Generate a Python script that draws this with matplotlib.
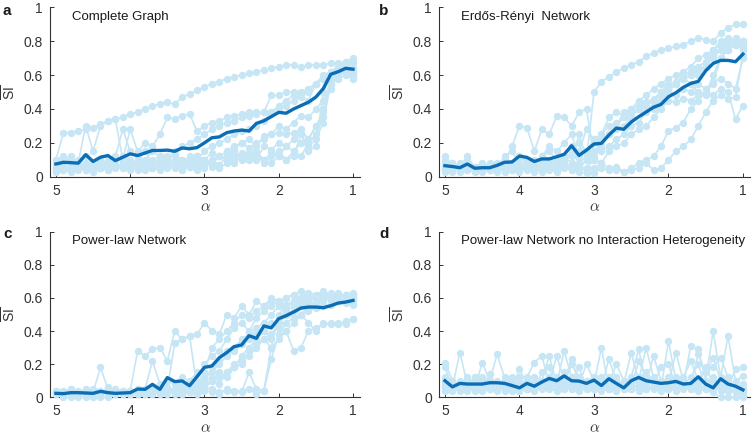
import numpy as np
import matplotlib
matplotlib.use("Agg")
import matplotlib.pyplot as plt

plt.rcParams['font.family'] = ['Liberation Sans', 'DejaVu Sans']
plt.rcParams['mathtext.fontset'] = 'custom'
plt.rcParams['mathtext.rm'] = 'Liberation Sans'
plt.rcParams['mathtext.it'] = 'Liberation Sans:italic'

alpha = np.round(np.arange(5.0, 0.95, -0.1), 2)

titles = ["Complete Graph", "Erdős-Rényi  Network", "Power-law Network",
          "Power-law Network no Interaction Heterogeneity"]
letters = ["a", "b", "c", "d"]

mean_a = [0.075,0.085,0.083,0.08,0.13,0.09,0.115,0.125,0.095,0.115,0.135,0.125,0.14,0.155,0.155,0.157,0.15,0.17,0.165,0.172,
          0.2,0.23,0.235,0.26,0.27,0.275,0.27,0.315,0.33,0.355,0.38,0.375,0.4,0.42,0.44,0.47,0.52,0.605,0.62,0.64,0.635]
mean_b = [0.065,0.06,0.053,0.075,0.05,0.053,0.053,0.067,0.085,0.087,0.122,0.114,0.09,0.105,0.105,0.118,0.132,0.183,0.126,0.157,
          0.193,0.197,0.246,0.287,0.28,0.323,0.354,0.382,0.41,0.427,0.472,0.496,0.528,0.551,0.563,0.626,0.669,0.687,0.687,0.679,0.724]
mean_c = [0.024,0.022,0.028,0.028,0.026,0.024,0.036,0.028,0.024,0.026,0.028,0.05,0.048,0.078,0.048,0.119,0.095,0.099,0.07,0.125,
          0.181,0.189,0.239,0.27,0.306,0.316,0.372,0.356,0.431,0.419,0.475,0.493,0.515,0.539,0.545,0.545,0.541,0.553,0.569,0.575,0.585]
mean_d = [0.1,0.063,0.084,0.08,0.08,0.08,0.088,0.088,0.084,0.071,0.057,0.084,0.067,0.092,0.114,0.1,0.129,0.1,0.098,0.084,
          0.104,0.071,0.112,0.084,0.057,0.1,0.12,0.1,0.092,0.084,0.088,0.096,0.08,0.084,0.124,0.08,0.057,0.112,0.08,0.067,0.045]

runs_a = [
 [0.10,0.26,0.26,0.27,0.28,0.29,0.31,0.33,0.34,0.35,0.37,0.38,0.40,0.42,0.43,0.44,0.43,0.47,0.49,0.51,0.53,0.55,0.56,0.58,0.59,0.60,0.61,0.62,0.63,0.64,0.65,0.66,0.66,0.65,0.66,0.66,0.66,0.67,0.67,0.68,0.68],
 [0.08,0.10,0.12,0.08,0.30,0.15,0.30,0.33,0.34,0.10,0.28,0.15,0.20,0.18,0.25,0.35,0.34,0.36,0.37,0.27,0.30,0.32,0.33,0.35,0.36,0.37,0.38,0.38,0.38,0.48,0.48,0.50,0.50,0.47,0.45,0.55,0.60,0.62,0.64,0.66,0.67],
 [0.05,0.06,0.05,0.07,0.06,0.08,0.05,0.07,0.06,0.05,0.08,0.07,0.06,0.10,0.12,0.10,0.15,0.18,0.20,0.22,0.25,0.28,0.30,0.32,0.33,0.35,0.36,0.37,0.38,0.38,0.40,0.42,0.45,0.48,0.50,0.55,0.58,0.62,0.65,0.66,0.64],
 [0.04,0.05,0.04,0.06,0.05,0.04,0.06,0.05,0.07,0.06,0.05,0.08,0.06,0.07,0.06,0.08,0.10,0.08,0.12,0.10,0.15,0.18,0.20,0.22,0.25,0.27,0.28,0.30,0.33,0.38,0.42,0.45,0.48,0.50,0.52,0.55,0.58,0.62,0.64,0.62,0.60],
 [0.06,0.04,0.07,0.05,0.08,0.06,0.05,0.09,0.07,0.06,0.10,0.08,0.06,0.09,0.07,0.10,0.08,0.06,0.09,0.12,0.10,0.08,0.12,0.15,0.18,0.20,0.17,0.20,0.22,0.25,0.30,0.28,0.32,0.36,0.35,0.40,0.45,0.55,0.62,0.63,0.60],
 [0.10,0.12,0.08,0.10,0.06,0.08,0.10,0.08,0.12,0.28,0.15,0.12,0.10,0.15,0.12,0.10,0.13,0.10,0.08,0.12,0.10,0.14,0.12,0.10,0.16,0.20,0.22,0.18,0.24,0.25,0.26,0.25,0.26,0.28,0.22,0.30,0.35,0.58,0.60,0.62,0.62],
 [0.05,0.08,0.10,0.06,0.12,0.08,0.06,0.10,0.08,0.12,0.10,0.06,0.08,0.05,0.10,0.06,0.08,0.05,0.06,0.04,0.08,0.10,0.12,0.10,0.08,0.12,0.14,0.10,0.18,0.16,0.20,0.18,0.22,0.25,0.18,0.22,0.32,0.55,0.58,0.60,0.58],
 [0.03,0.04,0.03,0.05,0.04,0.03,0.05,0.04,0.06,0.05,0.04,0.06,0.04,0.05,0.07,0.05,0.06,0.04,0.08,0.06,0.10,0.08,0.12,0.10,0.15,0.12,0.10,0.14,0.08,0.12,0.15,0.10,0.12,0.25,0.15,0.18,0.50,0.60,0.62,0.64,0.62],
 [0.07,0.05,0.06,0.04,0.05,0.07,0.08,0.06,0.05,0.08,0.06,0.10,0.15,0.08,0.10,0.12,0.08,0.10,0.06,0.08,0.05,0.10,0.07,0.12,0.10,0.14,0.12,0.15,0.10,0.08,0.12,0.10,0.15,0.12,0.20,0.25,0.40,0.52,0.60,0.62,0.62],
 [0.04,0.05,0.06,0.05,0.04,0.06,0.05,0.04,0.06,0.07,0.05,0.04,0.06,0.05,0.04,0.06,0.05,0.04,0.06,0.05,0.08,0.06,0.05,0.08,0.12,0.10,0.14,0.12,0.10,0.14,0.12,0.18,0.15,0.20,0.22,0.30,0.38,0.60,0.65,0.68,0.70],
]

runs_b = [
 [0.05,0.06,0.05,0.07,0.05,0.06,0.05,0.07,0.06,0.05,0.06,0.08,0.06,0.05,0.07,0.06,0.08,0.06,0.05,0.10,0.50,0.56,0.59,0.62,0.64,0.66,0.68,0.71,0.73,0.75,0.76,0.77,0.78,0.80,0.82,0.81,0.80,0.85,0.88,0.90,0.90],
 [0.06,0.08,0.05,0.06,0.04,0.05,0.06,0.05,0.08,0.18,0.30,0.29,0.15,0.28,0.25,0.36,0.35,0.30,0.38,0.40,0.12,0.22,0.25,0.30,0.35,0.38,0.40,0.42,0.45,0.50,0.52,0.55,0.58,0.60,0.65,0.68,0.72,0.76,0.78,0.78,0.80],
 [0.04,0.05,0.06,0.05,0.04,0.06,0.05,0.04,0.10,0.06,0.12,0.10,0.08,0.12,0.18,0.15,0.20,0.25,0.12,0.15,0.20,0.25,0.30,0.32,0.35,0.38,0.40,0.42,0.45,0.48,0.52,0.55,0.58,0.60,0.62,0.66,0.70,0.75,0.78,0.80,0.78],
 [0.10,0.08,0.06,0.10,0.05,0.06,0.08,0.05,0.06,0.05,0.08,0.06,0.10,0.08,0.06,0.10,0.12,0.08,0.25,0.10,0.15,0.18,0.25,0.30,0.38,0.40,0.42,0.44,0.46,0.50,0.55,0.56,0.58,0.55,0.50,0.48,0.60,0.70,0.75,0.78,0.76],
 [0.06,0.05,0.04,0.05,0.06,0.04,0.05,0.06,0.05,0.08,0.05,0.06,0.08,0.05,0.06,0.08,0.10,0.15,0.08,0.12,0.10,0.20,0.25,0.28,0.30,0.35,0.40,0.42,0.40,0.45,0.50,0.48,0.52,0.50,0.55,0.52,0.56,0.58,0.55,0.52,0.70],
 [0.05,0.06,0.05,0.04,0.06,0.05,0.04,0.05,0.06,0.05,0.04,0.06,0.05,0.08,0.06,0.05,0.07,0.05,0.06,0.05,0.10,0.08,0.15,0.18,0.20,0.25,0.28,0.30,0.35,0.40,0.45,0.44,0.46,0.45,0.48,0.50,0.48,0.52,0.50,0.34,0.42],
 [0.03,0.04,0.03,0.05,0.04,0.03,0.04,0.05,0.03,0.04,0.05,0.04,0.03,0.05,0.04,0.03,0.05,0.04,0.06,0.03,0.02,0.05,0.04,0.06,0.03,0.04,0.05,0.08,0.04,0.05,0.10,0.15,0.18,0.22,0.30,0.38,0.45,0.48,0.46,0.47,0.72],
 [0.04,0.03,0.05,0.04,0.03,0.05,0.04,0.03,0.05,0.04,0.03,0.05,0.04,0.03,0.05,0.04,0.06,0.04,0.03,0.02,0.05,0.08,0.05,0.04,0.03,0.05,0.08,0.10,0.12,0.18,0.27,0.29,0.32,0.40,0.45,0.50,0.55,0.70,0.75,0.78,0.80],
 [0.12,0.06,0.08,0.05,0.06,0.08,0.06,0.05,0.12,0.15,0.08,0.10,0.06,0.12,0.15,0.10,0.12,0.18,0.20,0.15,0.22,0.25,0.35,0.38,0.36,0.40,0.45,0.48,0.52,0.55,0.58,0.60,0.62,0.65,0.70,0.72,0.75,0.80,0.82,0.80,0.80],
 [0.08,0.05,0.06,0.12,0.05,0.06,0.05,0.08,0.05,0.06,0.12,0.08,0.06,0.08,0.10,0.08,0.10,0.12,0.15,0.28,0.22,0.15,0.18,0.22,0.25,0.30,0.32,0.38,0.42,0.45,0.50,0.55,0.60,0.62,0.60,0.65,0.75,0.78,0.80,0.82,0.75],
]

runs_c = [
 [0.04,0.03,0.02,0.03,0.04,0.03,0.18,0.05,0.03,0.02,0.04,0.28,0.25,0.29,0.30,0.22,0.40,0.35,0.37,0.38,0.45,0.40,0.38,0.50,0.48,0.55,0.50,0.58,0.55,0.60,0.58,0.60,0.62,0.60,0.63,0.62,0.61,0.62,0.63,0.60,0.62],
 [0.03,0.02,0.04,0.03,0.02,0.03,0.04,0.03,0.02,0.03,0.02,0.04,0.05,0.22,0.08,0.05,0.33,0.35,0.37,0.06,0.15,0.30,0.35,0.40,0.45,0.50,0.48,0.52,0.55,0.58,0.56,0.60,0.62,0.64,0.60,0.62,0.64,0.62,0.60,0.62,0.60],
 [0.02,0.03,0.05,0.02,0.03,0.05,0.02,0.03,0.04,0.03,0.02,0.03,0.02,0.04,0.03,0.05,0.04,0.08,0.06,0.10,0.20,0.25,0.28,0.35,0.42,0.45,0.40,0.48,0.52,0.55,0.58,0.56,0.58,0.60,0.62,0.58,0.60,0.62,0.60,0.58,0.56],
 [0.03,0.04,0.03,0.02,0.04,0.03,0.02,0.06,0.04,0.03,0.02,0.03,0.04,0.05,0.03,0.10,0.08,0.12,0.10,0.15,0.10,0.18,0.22,0.28,0.30,0.35,0.38,0.42,0.45,0.50,0.55,0.52,0.48,0.50,0.45,0.40,0.45,0.44,0.45,0.44,0.47],
 [0.02,0.0,0.0,0.0,0.0,0.0,0.0,0.0,0.03,0.04,0.03,0.02,0.03,0.02,0.04,0.03,0.02,0.05,0.03,0.08,0.05,0.10,0.15,0.12,0.18,0.25,0.30,0.35,0.40,0.45,0.42,0.40,0.28,0.30,0.40,0.42,0.44,0.45,0.44,0.46,0.47],
 [0.03,0.02,0.03,0.02,0.03,0.04,0.03,0.02,0.03,0.02,0.03,0.02,0.04,0.02,0.03,0.02,0.04,0.02,0.03,0.02,0.04,0.03,0.02,0.05,0.04,0.03,0.15,0.05,0.04,0.23,0.38,0.45,0.48,0.50,0.52,0.54,0.55,0.56,0.58,0.57,0.58],
 [0.04,0.03,0.05,0.03,0.02,0.04,0.03,0.05,0.02,0.03,0.04,0.05,0.03,0.04,0.05,0.06,0.04,0.05,0.07,0.05,0.08,0.10,0.12,0.15,0.20,0.22,0.25,0.30,0.35,0.38,0.45,0.50,0.52,0.55,0.58,0.60,0.62,0.60,0.61,0.62,0.60],
 [0.02,0.03,0.04,0.03,0.05,0.03,0.02,0.03,0.05,0.04,0.03,0.05,0.04,0.03,0.06,0.04,0.05,0.03,0.05,0.06,0.12,0.15,0.20,0.25,0.28,0.32,0.35,0.38,0.40,0.35,0.48,0.52,0.55,0.57,0.56,0.58,0.60,0.59,0.60,0.58,0.59],
 [0.03,0.02,0.03,0.04,0.02,0.03,0.04,0.03,0.02,0.03,0.04,0.03,0.02,0.03,0.04,0.05,0.04,0.06,0.04,0.07,0.10,0.12,0.08,0.15,0.18,0.20,0.28,0.32,0.35,0.30,0.50,0.55,0.57,0.59,0.60,0.61,0.62,0.63,0.61,0.62,0.63],
 [0.04,0.03,0.02,0.03,0.04,0.02,0.03,0.04,0.03,0.02,0.03,0.04,0.02,0.03,0.02,0.03,0.04,0.02,0.03,0.05,0.06,0.05,0.03,0.04,0.03,0.04,0.05,0.02,0.04,0.30,0.35,0.40,0.45,0.50,0.55,0.57,0.58,0.60,0.58,0.60,0.62],
]

runs_d = [
 [0.21,0.10,0.08,0.06,0.05,0.21,0.10,0.26,0.12,0.05,0.17,0.08,0.06,0.10,0.25,0.08,0.28,0.12,0.10,0.06,0.08,0.30,0.05,0.10,0.08,0.27,0.10,0.30,0.12,0.05,0.34,0.10,0.08,0.31,0.29,0.10,0.40,0.12,0.37,0.10,0.13],
 [0.18,0.06,0.27,0.08,0.12,0.05,0.14,0.06,0.08,0.10,0.05,0.12,0.21,0.25,0.08,0.25,0.10,0.23,0.08,0.20,0.10,0.06,0.23,0.10,0.05,0.12,0.29,0.08,0.25,0.10,0.08,0.27,0.10,0.08,0.26,0.15,0.24,0.10,0.06,0.17,0.18],
 [0.08,0.05,0.06,0.12,0.08,0.05,0.07,0.06,0.05,0.08,0.12,0.06,0.05,0.15,0.18,0.06,0.08,0.20,0.12,0.08,0.05,0.12,0.08,0.20,0.10,0.06,0.22,0.12,0.08,0.18,0.20,0.06,0.12,0.22,0.10,0.16,0.18,0.24,0.12,0.05,0.08],
 [0.06,0.04,0.05,0.06,0.12,0.08,0.05,0.06,0.04,0.05,0.08,0.05,0.12,0.06,0.10,0.08,0.05,0.10,0.18,0.06,0.12,0.08,0.05,0.06,0.10,0.08,0.05,0.12,0.10,0.06,0.08,0.12,0.05,0.06,0.10,0.18,0.08,0.06,0.12,0.05,0.03],
 [0.05,0.06,0.10,0.05,0.04,0.06,0.08,0.05,0.06,0.04,0.05,0.06,0.05,0.08,0.06,0.05,0.12,0.06,0.05,0.08,0.06,0.05,0.08,0.12,0.06,0.05,0.08,0.06,0.05,0.08,0.06,0.05,0.06,0.08,0.05,0.06,0.10,0.05,0.04,0.03,0.05],
 [0.10,0.08,0.05,0.04,0.06,0.10,0.05,0.08,0.10,0.06,0.04,0.10,0.06,0.05,0.08,0.12,0.06,0.05,0.08,0.10,0.05,0.06,0.10,0.05,0.06,0.10,0.08,0.05,0.06,0.10,0.05,0.08,0.06,0.05,0.08,0.05,0.06,0.08,0.05,0.04,0.02],
 [0.04,0.05,0.04,0.05,0.06,0.04,0.05,0.04,0.06,0.05,0.04,0.05,0.04,0.06,0.05,0.04,0.06,0.05,0.04,0.05,0.06,0.04,0.05,0.04,0.06,0.05,0.04,0.05,0.06,0.04,0.05,0.04,0.06,0.05,0.04,0.05,0.03,0.0,0.0,0.0,0.0],
 [0.12,0.07,0.08,0.10,0.09,0.12,0.08,0.10,0.07,0.06,0.08,0.10,0.07,0.08,0.12,0.10,0.15,0.08,0.12,0.10,0.08,0.10,0.12,0.08,0.07,0.10,0.12,0.15,0.10,0.08,0.12,0.10,0.08,0.12,0.20,0.06,0.12,0.08,0.10,0.06,0.04],
 [0.06,0.05,0.06,0.07,0.05,0.06,0.05,0.07,0.06,0.05,0.06,0.07,0.05,0.06,0.08,0.06,0.05,0.06,0.07,0.05,0.06,0.05,0.07,0.06,0.05,0.08,0.06,0.05,0.07,0.06,0.05,0.06,0.07,0.05,0.06,0.05,0.07,0.06,0.05,0.03,0.02],
 [0.08,0.10,0.07,0.05,0.08,0.07,0.10,0.05,0.08,0.12,0.06,0.05,0.08,0.06,0.10,0.07,0.08,0.06,0.10,0.07,0.12,0.08,0.06,0.10,0.08,0.06,0.07,0.10,0.08,0.06,0.10,0.07,0.08,0.06,0.10,0.07,0.06,0.04,0.08,0.06,0.05],
]

yticks = [0, 0.2, 0.4, 0.6, 0.8, 1]
ytick_labels = ["0", "0.2", "0.4", "0.6", "0.8", "1"]
xticks = [5, 4, 3, 2, 1]
xtick_labels = ["5", "4", "3", "2", "1"]

LIGHT = '#c6e6f5'
DARK = '#0b6db5'
AXC = '#333333'

fig = plt.figure(figsize=(7.52, 4.40), dpi=100)
W, H = 752.0, 440.0
# pixel boxes: (left, right, y0px, y1px)
boxes = [(50, 360.4, 176.7, 7.4), (439, 750.4, 176.7, 7.4),
         (50, 360.4, 397.3, 231.7), (439, 750.4, 397.3, 231.7)]
runs_all = [runs_a, runs_b, runs_c, runs_d]
means = [mean_a, mean_b, mean_c, mean_d]
letter_pos = [(3, 11), (379, 11), (3, 234), (379, 234)]

for k in range(4):
    l, r, y0, y1 = boxes[k]
    ax = fig.add_axes([l / W, 1 - y0 / H, (r - l) / W, (y0 - y1) / H])
    for run in runs_all[k]:
        ax.plot(alpha, run, color=LIGHT, lw=1.2, marker='o', ms=4.3,
                mec=LIGHT, mfc=LIGHT, zorder=3, clip_on=False)
    ax.plot(alpha, means[k], color=DARK, lw=2.4, zorder=4, clip_on=False,
            solid_joinstyle='round')
    ax.set_xlim(5.08, 0.9)
    ax.set_ylim(0, 1)
    ax.set_xticks(xticks)
    ax.set_xticklabels(xtick_labels)
    ax.set_yticks(yticks)
    ax.set_yticklabels(ytick_labels)
    for s in ['top', 'right']:
        ax.spines[s].set_visible(False)
    for s in ['left', 'bottom']:
        ax.spines[s].set_color(AXC)
        ax.spines[s].set_linewidth(0.8)
        ax.spines[s].set_zorder(2)
    ax.tick_params(direction='in', length=3, width=0.7, colors=AXC,
                   labelsize=10, labelcolor=AXC)
    ax.tick_params(axis='x', pad=5)
    ax.tick_params(axis='y', pad=5)
    ax.set_xlabel(r'$\alpha$', fontsize=11, color=AXC, labelpad=2,
                  math_fontfamily='cm')
    ax.set_ylabel(r'$\overline{\mathrm{SI}}$', fontsize=10, color=AXC, labelpad=4)
    ax.text(0.07, 0.945, titles[k], transform=ax.transAxes, fontsize=9.5,
            color='#1a1a1a', va='center', ha='left')
    lx, ly = letter_pos[k]
    fig.text(lx / W, 1 - ly / H, letters[k], fontsize=11, fontweight='bold',
             color='#1a1a1a', va='center', ha='left')

fig.savefig('out.png', dpi=100)
